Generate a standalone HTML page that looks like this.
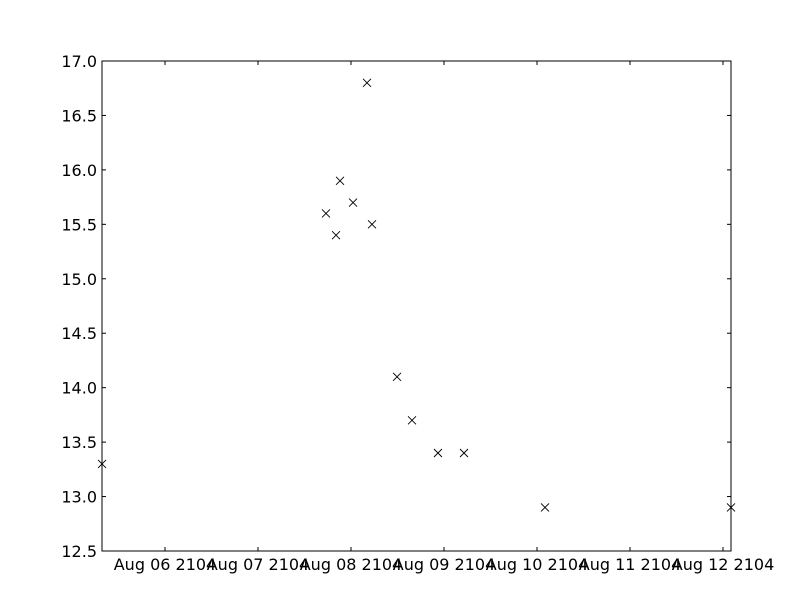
<!DOCTYPE html>
<html><head><meta charset="utf-8"><style>
body{margin:0;background:#fff;}
svg{display:block;font-family:"DejaVu Sans","Liberation Sans",sans-serif;}
</style></head><body>
<svg id="chart" width="812" height="612" viewBox="0 0 812 612" xmlns="http://www.w3.org/2000/svg">
<rect width="812" height="612" fill="#fff"/>
<g id="grid"></g>
<g id="marks"></g>
<rect x="102" y="61" width="629" height="490" fill="none" stroke="#000" stroke-width="1"/>
</svg>
<script>
// data: day of August 2104 (fractional) and values
const dayValues = [5.323, 7.731, 7.839, 7.882, 8.022, 8.172, 8.226, 8.495, 8.656, 8.935, 9.215, 10.086, 12.086];
const yValues = [13.3, 15.6, 15.4, 15.9, 15.7, 16.8, 15.5, 14.1, 13.7, 13.4, 13.4, 12.9, 12.9];
const xTickDays = [6, 7, 8, 9, 10, 11, 12];
const xTickLabels = ["Aug 06 2104","Aug 07 2104","Aug 08 2104","Aug 09 2104","Aug 10 2104","Aug 11 2104","Aug 12 2104"];
const yTicks = [12.5, 13.0, 13.5, 14.0, 14.5, 15.0, 15.5, 16.0, 16.5, 17.0];

const L=102,R=731,T=61,B=551;
const xMin=5.3226, xMax=12.0860, yMin=12.5, yMax=17.0;
const sx=d=>L+(d-xMin)/(xMax-xMin)*(R-L);
const sy=v=>B-(v-yMin)/(yMax-yMin)*(B-T);
const NS="http://www.w3.org/2000/svg";
const g=document.getElementById('grid'), m=document.getElementById('marks');
function mk(tag,attrs,parent){const e=document.createElementNS(NS,tag);for(const k in attrs)e.setAttribute(k,attrs[k]);parent.appendChild(e);return e;}

xTickDays.forEach((d,i)=>{
  const x=sx(d);
  const t1=mk('line',{x1:x,x2:x,y1:B,y2:B-4,stroke:'#000'},g);
  
  
  const t2=mk('line',{x1:x,x2:x,y1:T,y2:T+4,stroke:'#000'},g);
  
  
  const tx=mk('text',{x:x,y:B+19,'text-anchor':'middle','font-size':'16'},g);
  tx.textContent=xTickLabels[i];
  
  
});
yTicks.forEach(v=>{
  const y=sy(v);
  const t1=mk('line',{x1:L,x2:L+4,y1:y,y2:y,stroke:'#000'},g);
  
  
  const t2=mk('line',{x1:R,x2:R-4,y1:y,y2:y,stroke:'#000'},g);
  
  
  const tx=mk('text',{x:L-5,y:y+6,'text-anchor':'end','font-size':'16'},g);
  tx.textContent=v.toFixed(1);
  
  
});
dayValues.forEach((d,i)=>{
  const x=sx(d),y=sy(yValues[i]),r=4;
  const p=mk('path',{d:`M${x-r},${y-r}L${x+r},${y+r}M${x-r},${y+r}L${x+r},${y-r}`,stroke:'#000','stroke-width':'0.9',fill:'none'},m);
  
  
});
</script>
</body></html>
